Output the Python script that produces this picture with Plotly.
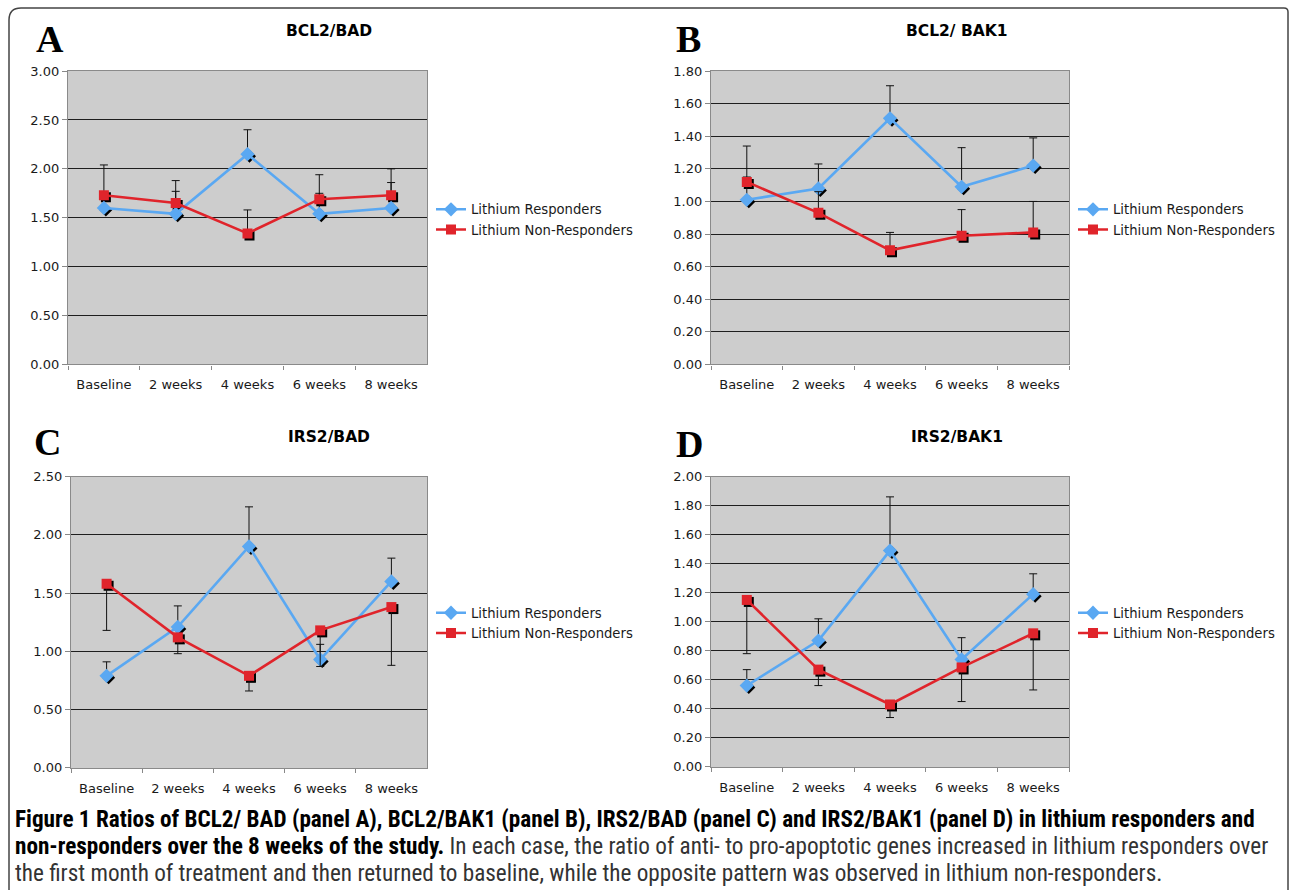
import plotly.graph_objects as go

W, H = 1290, 890
# the photographed page shows the figure with a small band above it and a slight
# vertical squeeze; target positions below are compensated for that
V_OFF = 8.0
V_SCALE = 0.982

weeks = ["Baseline", "2 weeks", "4 weeks", "6 weeks", "8 weeks"]
series_names = ["Lithium Responders", "Lithium Non-Responders"]

# Panel A: BCL2/BAD
a_resp = [1.60, 1.54, 2.15, 1.54, 1.60]
a_resp_err_plus = [0.12, 0.23, 0.25, 0.21, 0.26]
a_non = [1.73, 1.65, 1.34, 1.69, 1.73]
a_non_err_plus = [0.31, 0.23, 0.24, 0.25, 0.27]

# Panel B: BCL2/ BAK1
b_resp = [1.01, 1.08, 1.51, 1.09, 1.22]
b_resp_err_plus = [0.33, 0.15, 0.20, 0.24, 0.17]
b_non = [1.12, 0.93, 0.70, 0.79, 0.81]
b_non_err_plus = [0.03, 0.13, 0.11, 0.16, 0.19]

# Panel C: IRS2/BAD
c_resp = [0.79, 1.21, 1.90, 0.93, 1.60]
c_resp_err_plus = [0.12, 0.18, 0.34, 0.13, 0.20]
c_non = [1.58, 1.12, 0.79, 1.18, 1.38]
c_non_err_minus = [0.40, 0.14, 0.13, 0.31, 0.50]

# Panel D: IRS2/BAK1
d_resp = [0.56, 0.87, 1.49, 0.74, 1.19]
d_resp_err_plus = [0.11, 0.15, 0.37, 0.15, 0.14]
d_non = [1.15, 0.67, 0.43, 0.685, 0.92]
d_non_err_minus = [0.37, 0.11, 0.09, 0.235, 0.39]

titles = ["BCL2/BAD", "BCL2/ BAK1", "IRS2/BAD", "IRS2/BAK1"]
letters = ["A", "B", "C", "D"]
y_max = [3.0, 1.8, 2.5, 2.0]
y_step = [0.5, 0.2, 0.5, 0.2]

panels = [
    (a_resp, a_resp_err_plus, [0]*5, a_non, a_non_err_plus, [0]*5),
    (b_resp, b_resp_err_plus, [0]*5, b_non, b_non_err_plus, [0]*5),
    (c_resp, c_resp_err_plus, [0]*5, c_non, [0]*5, c_non_err_minus),
    (d_resp, d_resp_err_plus, [0]*5, d_non, [0]*5, d_non_err_minus),
]

# layout geometry (target pixels in the 1290x890 picture)
boxes = [(68, 427, 72, 365), (711, 1069, 72, 365), (71, 427, 477, 768), (711, 1069, 477, 767)]
title_pos = [(329, 32), (957, 32), (329, 437), (957, 437)]
letter_pos = [(50, 40), (688, 40), (47, 442), (689, 444)]
legend_pos = [(431, 195), (1073, 195), (431, 598), (1073, 598)]

BLUE = "#5aa8f2"
RED = "#e0242b"
BG = "#cdcdcd"
TICKFONT = dict(family="DejaVu Sans, Verdana, sans-serif", size=13, color="#1a1a1a")

def px(x):
    return x / W

def py(t):
    y = (t - V_OFF) / V_SCALE
    return 1 - y / H

fig = go.Figure()
layout = dict(
    width=W, height=H, margin=dict(l=0, r=0, t=0, b=0),
    paper_bgcolor="white", plot_bgcolor="rgba(0,0,0,0)",
    showlegend=True,
)
shapes = []
annotations = []

for i, (box, data) in enumerate(zip(boxes, panels)):
    x0, x1, y0, y1 = box
    resp, rp, rm, non, np_, nm = data
    g = i + 1          # grid subplot
    s = i + 5          # shadow subplot
    m = i + 9          # main subplot
    dom_x = [px(x0), px(x1)]
    dom_y = [py(y1), py(y0)]
    off = 2.0
    dom_xs = [px(x0 + off), px(x1 + off)]
    dom_ys = [py(y1 + off), py(y0 + off)]
    yr = [0, y_max[i]]
    xr = [-0.5, 4.5]

    def ax_name(prefix, k):
        return f"{prefix}axis" if k == 1 else f"{prefix}axis{k}"

    # grid subplot
    layout[ax_name("x", g)] = dict(
        domain=dom_x, anchor=f"y{g}" if g > 1 else "y", type="category",
        range=xr, tickson="boundaries", ticks="outside", ticklen=4,
        tickcolor="#888", showline=True, linecolor="#8a8a8a", linewidth=1.2,
        mirror=True, showgrid=False, tickfont=TICKFONT, fixedrange=True,
        ticklabelstandoff=8,
    )
    layout[ax_name("y", g)] = dict(
        domain=dom_y, anchor=f"x{g}" if g > 1 else "x", range=yr,
        dtick=y_step[i], tick0=0, tickformat=".2f", ticks="outside", ticklen=5,
        tickcolor="#888", showline=True, linecolor="#8a8a8a", linewidth=1.2,
        mirror=True, showgrid=True, gridcolor="#1e1e1e", gridwidth=1.2,
        zeroline=False, tickfont=TICKFONT, fixedrange=True,
    )
    # shadow subplot
    layout[ax_name("x", s)] = dict(domain=dom_xs, anchor=f"y{s}", type="category",
                                   range=xr, visible=False, fixedrange=True)
    layout[ax_name("y", s)] = dict(domain=dom_ys, anchor=f"x{s}", range=yr,
                                   visible=False, fixedrange=True)
    # main subplot
    layout[ax_name("x", m)] = dict(domain=dom_x, anchor=f"y{m}", type="category",
                                   range=xr, visible=False, fixedrange=True)
    layout[ax_name("y", m)] = dict(domain=dom_y, anchor=f"x{m}", range=yr,
                                   visible=False, fixedrange=True)

    gx = "x" if g == 1 else f"x{g}"
    gy = "y" if g == 1 else f"y{g}"
    # invisible trace to register categories on grid axis
    fig.add_trace(go.Scatter(x=weeks, y=resp, mode="markers", marker=dict(opacity=0),
                             xaxis=gx, yaxis=gy, showlegend=False, hoverinfo="skip"))

    # marker shadows
    fig.add_trace(go.Scatter(x=weeks, y=resp, mode="markers",
                             marker=dict(symbol="diamond", size=10, color="black"),
                             xaxis=f"x{s}", yaxis=f"y{s}", showlegend=False, hoverinfo="skip"))
    fig.add_trace(go.Scatter(x=weeks, y=non, mode="markers",
                             marker=dict(symbol="square", size=10, color="black"),
                             xaxis=f"x{s}", yaxis=f"y{s}", showlegend=False, hoverinfo="skip"))

    leg = "legend" if i == 0 else f"legend{i+1}"
    fig.add_trace(go.Scatter(
        x=weeks, y=resp, mode="lines+markers", name=series_names[0],
        line=dict(color=BLUE, width=2.6),
        marker=dict(symbol="diamond", size=11, color=BLUE),
        error_y=dict(type="data", symmetric=False, array=rp, arrayminus=rm,
                     color="#111", thickness=1, width=4),
        xaxis=f"x{m}", yaxis=f"y{m}", legend=leg,
    ))
    fig.add_trace(go.Scatter(
        x=weeks, y=non, mode="lines+markers", name=series_names[1],
        line=dict(color=RED, width=2.6),
        marker=dict(symbol="square", size=10, color=RED),
        error_y=dict(type="data", symmetric=False, array=np_, arrayminus=nm,
                     color="#111", thickness=1, width=4),
        xaxis=f"x{m}", yaxis=f"y{m}", legend=leg,
    ))

    lx, ly = legend_pos[i]
    layout[leg] = dict(x=px(lx), y=py(ly), xanchor="left", yanchor="top",
                       bgcolor="rgba(0,0,0,0)", borderwidth=0,
                       font=dict(family="DejaVu Sans, Verdana, sans-serif", size=13.2, color="#1a1a1a"),
                       tracegroupgap=0, itemclick=False, itemdoubleclick=False)

    # plot background
    shapes.append(dict(type="rect", xref="paper", yref="paper", x0=dom_x[0], x1=dom_x[1],
                       y0=dom_y[0], y1=dom_y[1], fillcolor=BG, line=dict(width=0), layer="below"))

    tx, ty = title_pos[i]
    annotations.append(dict(text=f"<b>{titles[i]}</b>", x=px(tx), y=py(ty), xref="paper", yref="paper",
                            showarrow=False, xanchor="center", yanchor="middle",
                            font=dict(family="DejaVu Sans, Verdana, sans-serif", size=15.5, color="black")))
    lx2, ly2 = letter_pos[i]
    annotations.append(dict(text=f"<b>{letters[i]}</b>", x=px(lx2), y=py(ly2), xref="paper", yref="paper",
                            showarrow=False, xanchor="center", yanchor="middle",
                            font=dict(family="Liberation Serif, DejaVu Serif, serif", size=38, color="black")))

# outer rounded border
bx0, bx1, by0 = 9, 1288, 9
path = (f"M {px(bx0)} {py(905)} L {px(bx0)} {py(by0+12)} "
        f"Q {px(bx0)} {py(by0)} {px(bx0+12)} {py(by0)} "
        f"L {px(bx1-4)} {py(by0)} Q {px(bx1)} {py(by0)} {px(bx1)} {py(by0+4)} "
        f"L {px(bx1)} {py(905)}")
shapes.append(dict(type="path", xref="paper", yref="paper", path=path,
                   line=dict(color="#444", width=1.5), layer="above"))

CAP = "Liberation Sans Narrow, Roboto Condensed, Arial Narrow, sans-serif"
caption_lines = [
    ("<b>Figure 1 Ratios of BCL2/ BAD (panel A), BCL2/BAK1 (panel B), IRS2/BAD (panel C) and IRS2/BAK1 (panel D) in lithium responders and</b>", 819),
    ("<b>non-responders over the 8 weeks of the study.</b><span style='color:#333'> In each case, the ratio of anti- to pro-apoptotic genes increased in lithium responders over</span>", 846),
    ("<span style='color:#333'>the first month of treatment and then returned to baseline, while the opposite pattern was observed in lithium non-responders.</span>", 873),
]
for txt, yy in caption_lines:
    annotations.append(dict(text=txt, x=px(13), y=py(yy), xref="paper", yref="paper",
                            showarrow=False, xanchor="left", yanchor="middle",
                            font=dict(family=CAP, size=23.2, color="black")))

layout["shapes"] = shapes
layout["annotations"] = annotations
fig.update_layout(**layout)
fig.write_html(
    "out.html",
    config={"displayModeBar": False},
    post_script=("document.documentElement.style.margin='0';document.body.style.margin='0';"
                 "document.body.style.overflow='hidden';"
                 "var d=document.getElementById('{plot_id}');d.style.position='fixed';"
                 "d.style.top='0px';d.style.left='0px';"),
)
